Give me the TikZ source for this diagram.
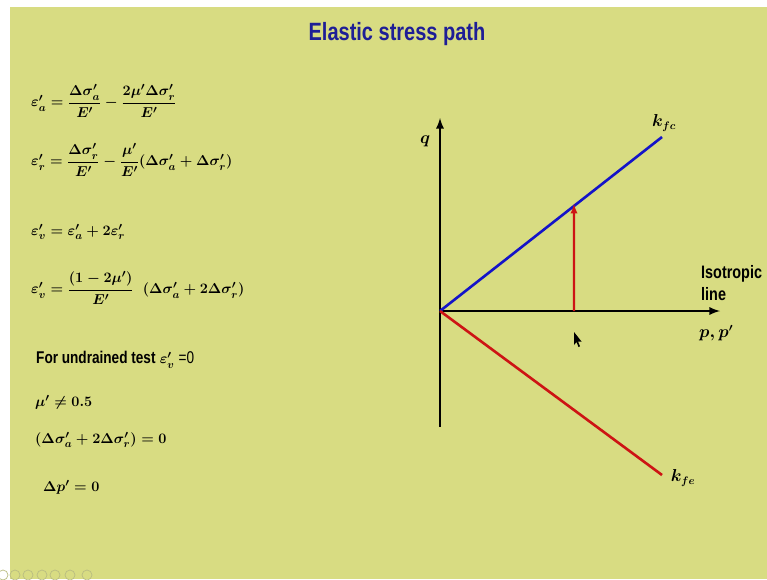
\documentclass[tikz,border=0pt]{standalone}
\usepackage{amsmath,amssymb}
\usepackage{fontspec}
\setmainfont{Liberation Sans}
\newfontfamily\narrowsans[FakeStretch=0.8]{Liberation Sans}
\usepackage{tikz}
\usetikzlibrary{arrows,positioning,calc}

\definecolor{slidebg}{RGB}{216,220,130}
\definecolor{titleblue}{RGB}{30,30,150}
\definecolor{lineblue}{RGB}{20,20,200}
\definecolor{linered}{RGB}{205,20,20}

\tikzset{
  eqn/.style={anchor=west, inner sep=0pt, font=\fontsize{15}{18}\selectfont\boldmath},
  axis/.style={line width=2.6pt, black},
  lbl/.style={inner sep=0pt, font=\fontsize{16}{18}\selectfont\boldmath}
}

\begin{document}
\begin{tikzpicture}[x=1pt,y=-1pt]
    \useasboundingbox (0,0) rectangle (767,579);
    % Slide
    \fill[white] (0,0) rectangle (767,579);
    \fill[slidebg] (10,7) rectangle (767,579);

    % Title
    \node[titleblue, font=\fontsize{25}{28}\selectfont\narrowsans\bfseries] (title) at (397,34) {Elastic stress path};

    % Equations
    \node[eqn] (ea) at (31,101) {$\varepsilon'_a=\dfrac{\Delta\sigma'_a}{E'}-\dfrac{2\mu'\Delta\sigma'_r}{E'}$};
    \node[eqn] (er) at (31,160) {$\varepsilon'_r=\dfrac{\Delta\sigma'_r}{E'}-\dfrac{\mu'}{E'}(\Delta\sigma'_a+\Delta\sigma'_r)$};
    \node[eqn] (ev) at (31,232) {$\varepsilon'_v=\varepsilon'_a+2\varepsilon'_r$};
    \node[eqn] (evb) at (31,288) {$\varepsilon'_v=\dfrac{(1-2\mu')}{E'}\;\;(\Delta\sigma'_a+2\Delta\sigma'_r)$};
    \node[eqn] (und) at (36,360) {{\fontsize{17}{19}\selectfont\narrowsans\bfseries For undrained test} $\varepsilon'_v$ {\fontsize{17}{19}\selectfont\narrowsans =0}};
    \node[eqn] (mu) at (35,402) {$\mu'\neq 0.5$};
    \node[eqn] (sum) at (35,440) {$(\Delta\sigma'_a+2\Delta\sigma'_r)=0$};
    \node[eqn] (dp) at (43,487) {$\Delta p'=0$};

    % Axes
    \coordinate (O) at (440,311);
    \coordinate (qtop) at (440,118);
    \coordinate (qbot) at (440,427);
    \coordinate (pend) at (720,311);
    \draw[axis] (O) -- (qbot);
    \draw[axis, -latex] (O) -- (qtop);
    \draw[axis, -latex] (O) -- (pend);
    \node[lbl] (q) at (425,141) {$q$};
    \node[lbl, anchor=west] (pp) at (699,333) {$p,p'$};
    \node[font=\fontsize{18}{22}\selectfont\narrowsans\bfseries, align=left, anchor=west, inner sep=0pt] (iso) at (701,283) {Isotropic\\line};

    % Failure lines
    \coordinate (kc) at (662,137);
    \coordinate (ke) at (662,475);
    \draw[lineblue, line width=2.6pt] (O) -- (kc);
    \draw[linered, line width=2.6pt] (O) -- (ke);
    \node[lbl] (kfc) at (664,123) {$k_{fc}$};
    \node[lbl] (kfe) at (683,478) {$k_{fe}$};

    % Stress path
    \coordinate (s0) at (574,311);
    \coordinate (s1) at ($(O)!0.6036!(kc)$);
    \draw[linered, line width=2.2pt, -latex] (s0) -- ([yshift=2pt]s1);

    % Pointer
    \fill[black] (574,332) -- (574,345) -- (576.5,342) -- (578.5,347) -- (580,346.3) -- (578,341.5) -- (581.5,341.5) -- cycle;

    % Slide controls
    \foreach \cx in {3,15,28,42,55,70,87}
      \draw[gray!35!slidebg, line width=0.7pt] (\cx,575) circle (5);
\end{tikzpicture}
\end{document}
